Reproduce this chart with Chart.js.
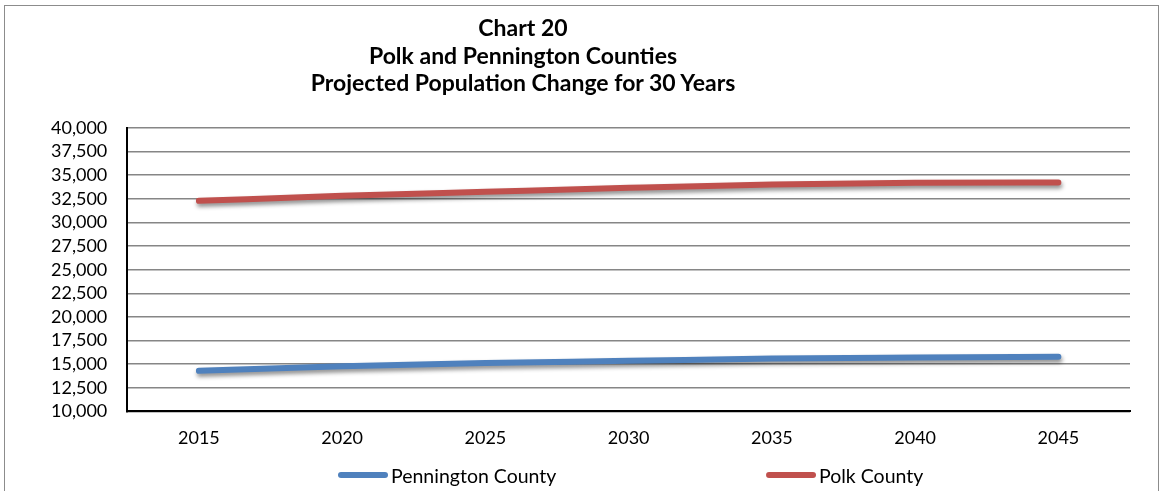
<!DOCTYPE html>
<html>
<head>
<meta charset="utf-8">
<script src="https://cdn.jsdelivr.net/npm/chart.js@4"></script>
<style>
  html, body { margin: 0; padding: 0; background: #fff; }
  #wrap { position: relative; width: 1162px; height: 491px; overflow: hidden; }
  #frame { position: absolute; left: 4px; top: 5px; width: 1155px; height: 500px; border: 1px solid #8c8c8c; box-sizing: border-box; }
  #title { position: absolute; left: 0; top: 14px; width: 1046px; text-align: center; font-family: Lato, "Open Sans", sans-serif; font-weight: bold; font-size: 23px; line-height: 27.5px; color: #000; }
  #legend { position: absolute; top: 462px; left: 0; width: 1162px; height: 26px; font-family: Lato, "Open Sans", sans-serif; font-size: 19.5px; color: #000; }
  .item { position: absolute; display: flex; align-items: center; height: 26px; }
  .swatch { width: 50px; height: 6px; border-radius: 3px; margin-right: 3px; }
</style>
</head>
<body>
<div id="wrap">
  <div id="frame"></div>
  <canvas id="chart" width="1162" height="491" style="position:absolute;left:0;top:0;"></canvas>
  <div id="title"></div>
  <div id="legend"></div>
</div>
<script>
// Chart data
const years = ['2015', '2020', '2025', '2030', '2035', '2040', '2045'];
const pennington = [14300, 14790, 15130, 15350, 15600, 15710, 15780];
const polk = [32290, 32820, 33250, 33670, 34020, 34200, 34230];
const titleLines = ['Chart 20', 'Polk and Pennington Counties', 'Projected Population Change for 30 Years'];

const seriesNames = ['Pennington County', 'Polk County'];
const seriesColors = ['#4f81bd', '#c0504d'];
const legendLeft = [338, 766];
const FONT = 'Lato, "Open Sans", sans-serif';

// drop shadow under the lines, like the original
const lineShadow = {
    id: 'lineShadow',
    beforeDatasetsDraw(chart) {
        const c = chart.ctx;
        c.save();
        c.shadowColor = 'rgba(0,0,0,0.45)';
        c.shadowBlur = 4;
        c.shadowOffsetX = 1;
        c.shadowOffsetY = 3;
    },
    afterDatasetsDraw(chart) {
        chart.ctx.restore();
    }
};

function drawChart() {
    const ctx = document.getElementById('chart').getContext('2d');
    new Chart(ctx, {
        type: 'line',
        data: {
            labels: years,
            datasets: [pennington, polk].map((vals, i) => ({
                label: seriesNames[i],
                data: vals,
                borderColor: seriesColors[i],
                backgroundColor: seriesColors[i],
                borderWidth: 6,
                borderCapStyle: 'round',
                cubicInterpolationMode: 'monotone',
                pointRadius: 0,
                fill: false
            }))
        },
        options: {
            responsive: false,
            animation: false,
            layout: { padding: { left: 31, right: 32, top: 128, bottom: 26 } },
            plugins: {
                legend: { display: false },
                tooltip: { enabled: false },
                title: { display: false }
            },
            scales: {
                x: {
                    offset: true,
                    grid: { display: false, drawTicks: false },
                    border: { color: '#000', width: 2 },
                    ticks: { color: '#000', padding: 16, maxRotation: 0, font: { family: FONT, size: 18 } }
                },
                y: {
                    min: 10000,
                    max: 40000,
                    ticks: {
                        stepSize: 2500,
                        autoSkip: false,
                        color: '#000',
                        padding: 20,
                        font: { family: FONT, size: 18 },
                        callback: v => v.toLocaleString('en-US')
                    },
                    grid: { color: '#868686', lineWidth: 1.5, drawTicks: false },
                    border: { color: '#000', width: 2 }
                }
            }
        },
        plugins: [lineShadow]
    });
}

document.getElementById('title').innerHTML = titleLines.join('<br>');

// legend
document.getElementById('legend').innerHTML = seriesNames.map((name, i) => `
    <div class="item" style="left:${legendLeft[i]}px;">
        <span class="swatch" style="background:${seriesColors[i]};"></span>${name}
    </div>
`).join('');

Promise.all([
    document.fonts.load('18px Lato'),
    document.fonts.load('bold 23px Lato')
]).then(drawChart, drawChart);
</script>
</body>
</html>
